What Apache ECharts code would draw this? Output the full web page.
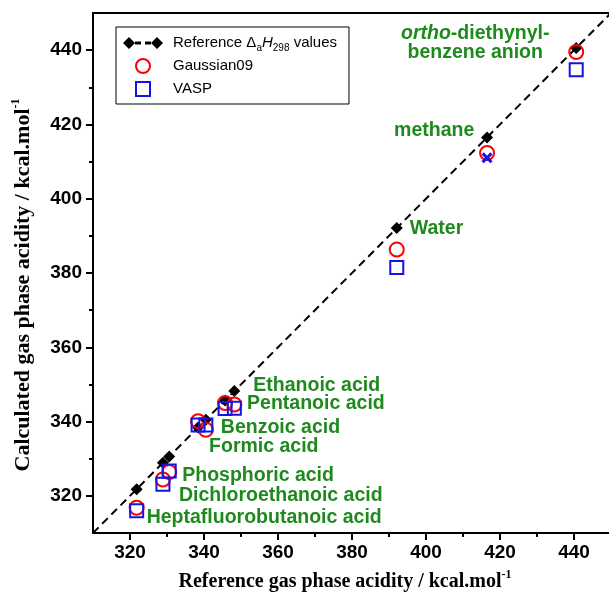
<!DOCTYPE html>
<html>
<head>
<meta charset="utf-8">
<script src="https://cdn.jsdelivr.net/npm/echarts@6/dist/echarts.min.js"></script>
<style>
html,body{margin:0;padding:0;background:#fff;}
#chart{width:609px;height:598px;}
</style>
</head>
<body>
<div id="chart"></div>
<script>
// ---- data ----
const compounds = ['Heptafluorobutanoic acid','Dichloroethanoic acid','Phosphoric acid','Formic acid','Benzoic acid','Pentanoic acid','Ethanoic acid','Water','methane','ortho-diethynylbenzene anion'];
const refValues      = [321.8, 328.9, 330.6, 338.4, 340.5, 345.7, 348.2, 392.1, 416.5, 440.6];
const gaussianValues = [316.8, 324.4, 326.4, 340.1, 337.8, 345.0, 344.6, 386.3, 412.3, 439.5];
const vaspValues     = [316.0, 323.1, 326.7, 339.1, 339.1, 343.5, 343.6, 381.5, 411.0, 434.7];
const majorTicks = [320, 340, 360, 380, 400, 420, 440];
const minorTicks = [330, 350, 370, 390, 410, 430];
const axisRange = [310, 450];
const crossMarked = ['methane'];

// ---- layout / style (not data) ----
const labelOffsets = {
  'Heptafluorobutanoic acid': [10, 28, 'left'],
  'Dichloroethanoic acid': [16, 33, 'left'],
  'Phosphoric acid': [13, 19, 'left'],
  'Formic acid': [11, 19, 'left'],
  'Benzoic acid': [15, 8, 'left'],
  'Pentanoic acid': [22, 3, 'left'],
  'Ethanoic acid': [19, -5, 'left'],
  'Water': [13, 1, 'left'],
  'methane': [-93, -7, 'left'],
  'ortho-diethynylbenzene anion': [-101, -5, 'center']
};
const green = '#1e8a1e';
const labelFont = {fontFamily: 'Liberation Sans, Arial, sans-serif', fontWeight: 'bold', fontSize: 19.5, color: green};

function labelText(name) {
  if (name.indexOf('ortho') === 0) return '{it|ortho}{b|-diethynyl-}\n{b|benzene anion}';
  return '{b|' + name + '}';
}

const refData = compounds.map((c, i) => {
  const o = labelOffsets[c];
  return {
    name: c,
    value: [refValues[i], refValues[i]],
    label: {
      show: true, position: 'inside', align: o[2], verticalAlign: 'middle',
      offset: [o[0], o[1]],
      formatter: labelText(c),
      rich: {
        b: Object.assign({lineHeight: 19}, labelFont),
        it: Object.assign({lineHeight: 19, fontStyle: 'italic'}, labelFont)
      }
    }
  };
});
const gaussData = compounds.map((c, i) => [refValues[i], gaussianValues[i]]);
const crossPath = 'path://M0,2 L2,0 L5,3 L8,0 L10,2 L7,5 L10,8 L8,10 L5,7 L2,10 L0,8 L3,5 Z';
const vaspData = compounds.map((c, i) => {
  if (crossMarked.indexOf(c) >= 0) {
    return {value: [refValues[i], vaspValues[i]], symbol: crossPath, symbolSize: 11,
      itemStyle: {color: '#1414e6', borderWidth: 0, opacity: 1}};
  }
  return {value: [refValues[i], vaspValues[i]]};
});

const chart = echarts.init(document.getElementById('chart'), null, {renderer: 'canvas'});
const axisFont = {fontFamily: 'Liberation Sans, Arial, sans-serif', fontWeight: 'bold', fontSize: 19, color: '#000'};
function nameRich(size) {
  const base = {fontFamily: 'Liberation Serif, Times New Roman, serif', fontWeight: 'bold', fontSize: size, color: '#000'};
  return {
    a: Object.assign({}, base),
    sup: Object.assign({}, base, {fontSize: 12, verticalAlign: 'top', lineHeight: 26})
  };
}

const legendIcon = 'path://M0,7 L6,1 L12,7 L6,13 Z M12,5.5 L18,5.5 L18,8.5 L12,8.5 Z M22,5.5 L28,5.5 L28,8.5 L22,8.5 Z M28,7 L34,1 L40,7 L34,13 Z';
const squareIcon = 'path://M0,0 L10,0 L10,10 L0,10 Z';
const legendFF = 'Liberation Sans, Arial, sans-serif';

chart.setOption({
  animation: false,
  backgroundColor: '#fff',
  grid: {left: 93, top: 13, width: 518, height: 520, show: true, borderColor: '#000', borderWidth: 2,
    containLabel: false, outerBoundsMode: 'none'},
  legend: {
    orient: 'vertical', left: 116, top: 27,
    padding: [6, 12, 5, 7],
    borderColor: '#000', borderWidth: 1,
    itemWidth: 40, itemHeight: 14, itemGap: 3,
    textStyle: {fontFamily: legendFF, fontSize: 15, color: '#000', lineHeight: 20, padding: [0, 0, 0, 5],
      rich: {
        n: {fontFamily: legendFF, fontSize: 15, lineHeight: 20},
        s: {fontFamily: legendFF, fontSize: 10, verticalAlign: 'bottom', lineHeight: 20},
        i: {fontFamily: legendFF, fontSize: 15, fontStyle: 'italic', lineHeight: 20}
      }},
    formatter: function (name) {
      if (name === 'Reference') return '{n|Reference Δ}{s|a}{i|H}{s|298}{n| values}';
      return name;
    },
    data: [
      {name: 'Reference', icon: legendIcon},
      {name: 'Gaussian09', icon: 'circle'},
      {name: 'VASP', icon: squareIcon}
    ]
  },
  xAxis: [
    {
      type: 'value', min: axisRange[0], max: axisRange[1], interval: 10,
      name: '{a|Reference gas phase acidity / kcal.mol}{sup|-1}',
      nameLocation: 'middle', nameGap: 36, nameTextStyle: {rich: nameRich(20), padding: [0, 14, 0, 0]},
      axisLine: {lineStyle: {color: '#000', width: 2}},
      axisTick: {customValues: majorTicks, length: 7, lineStyle: {color: '#000', width: 2}},
      axisLabel: Object.assign({customValues: majorTicks, margin: 10}, axisFont),
      splitLine: {show: false}
    },
    {
      type: 'value', min: axisRange[0], max: axisRange[1], interval: 10,
      position: 'top', offset: -520,
      axisLine: {show: false},
      axisTick: {customValues: minorTicks, inside: true, length: 4, lineStyle: {color: '#000', width: 2}},
      axisLabel: {show: false},
      splitLine: {show: false}
    }
  ],
  yAxis: [
    {
      type: 'value', min: axisRange[0], max: axisRange[1], interval: 10,
      name: '{a|Calculated gas phase acidity / kcal.mol}{sup|-1}',
      nameLocation: 'middle', nameGap: 57, nameTextStyle: {rich: nameRich(22), padding: [0, 24, 0, 0]},
      axisLine: {lineStyle: {color: '#000', width: 2}},
      axisTick: {customValues: majorTicks, length: 7, lineStyle: {color: '#000', width: 2}},
      axisLabel: Object.assign({customValues: majorTicks, margin: 11}, axisFont),
      splitLine: {show: false}
    },
    {
      type: 'value', min: axisRange[0], max: axisRange[1], interval: 10,
      position: 'right', offset: -518,
      axisLine: {show: false},
      axisTick: {customValues: minorTicks, inside: true, length: 4, lineStyle: {color: '#000', width: 2}},
      axisLabel: {show: false},
      splitLine: {show: false}
    }
  ],
  series: [
    {
      name: 'parity', type: 'line', xAxisIndex: 0, yAxisIndex: 0,
      data: [[axisRange[0], axisRange[0]], [axisRange[1], axisRange[1]]],
      showSymbol: false, symbol: 'none', silent: true,
      lineStyle: {color: '#000', width: 2, type: [8, 5]}, z: 1
    },
    {
      name: 'Reference', type: 'scatter', xAxisIndex: 0, yAxisIndex: 0,
      symbol: 'diamond', symbolSize: 12,
      itemStyle: {color: '#000', opacity: 1},
      data: refData, z: 2
    },
    {
      name: 'Gaussian09', type: 'scatter', xAxisIndex: 0, yAxisIndex: 0,
      symbol: 'circle', symbolSize: 14,
      itemStyle: {color: 'rgba(255,255,255,0)', borderColor: '#ff0000', borderWidth: 2, opacity: 1},
      data: gaussData, z: 3
    },
    {
      name: 'VASP', type: 'scatter', xAxisIndex: 0, yAxisIndex: 0,
      symbol: 'rect', symbolSize: 13,
      itemStyle: {color: 'rgba(255,255,255,0)', borderColor: '#1414e6', borderWidth: 2, opacity: 1},
      data: vaspData, z: 4
    }
  ]
});
</script>
</body>
</html>
